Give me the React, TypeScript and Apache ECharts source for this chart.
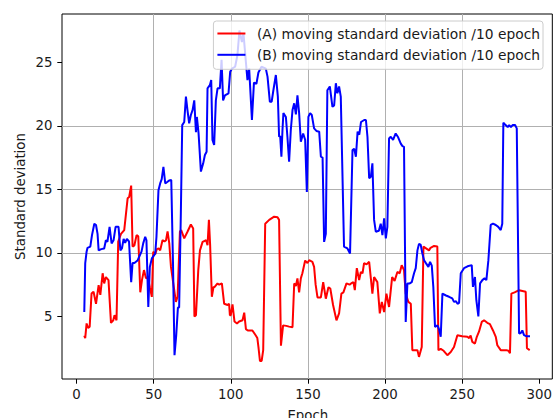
import React, { useEffect, useRef } from "react";
import * as echarts from "echarts";

const seriesNames = [
  "(A) moving standard deviation /10 epoch",
  "(B) moving standard deviation /10 epoch",
];
const xTicks = [0, 50, 100, 150, 200, 250, 300];
const yTicks = [5, 10, 15, 20, 25];
const xTitle = "Epoch";
const yTitle = "Standard deviation";

// [epoch, value]
const pointsA: [number, number][] = [
  [5, 3.5], [5.6, 3.3], [6.5, 4.45], [7.5, 4.1], [8.5, 4.2], [9.7, 6.8], [11, 6.95], [12.6, 6.0],
  [14.3, 7.46], [15.4, 6.7], [16.9, 8.4], [17.9, 7.6], [19, 8.1], [20.7, 7.86], [22.3, 4.5], [23.8, 4.7],
  [24.6, 5.1], [25.9, 4.7], [27, 10.9], [28.8, 11.5], [30.9, 11.8], [33.1, 14.3], [34.1, 14.4], [35.4, 15.3],
  [36.3, 10.5], [37.5, 10.6], [38.9, 11.4], [40, 11.3], [41.3, 6.9], [42.4, 7.86], [43.7, 8.65], [45, 8.0],
  [46.2, 8.1], [47.5, 7.3], [48.8, 6.54], [49.7, 10.1], [51, 9.9], [52, 10.3], [53.2, 10.35], [54.2, 10.2],
  [55.7, 11.0], [57, 10.9], [58, 11.0], [59, 11.7], [60.1, 10.75], [61.2, 8.9], [62.7, 7.6], [64.4, 6.15],
  [65.5, 6.55], [67, 11.67], [67.8, 11.8], [69.8, 11.14], [71.9, 11.67], [74.1, 12.24], [75.6, 11.93], [76.4, 5.0],
  [77.4, 5.1], [78.9, 8.65], [80, 10.2], [81.7, 10.87], [84, 11.0], [84.9, 10.6], [85.8, 12.6], [86.6, 10.6],
  [87.7, 6.55], [88.8, 7.33], [89.4, 7.3], [91.4, 7.6], [92.5, 7.5], [94.2, 7.6], [95.7, 6.0], [97.9, 5.9],
  [98.9, 6.0], [99.4, 5.1], [100, 5.1], [101.1, 5.95], [102.4, 4.6], [104, 4.45], [105.4, 4.6], [107.6, 4.7],
  [108.7, 5.3], [109.8, 4.0], [111, 3.9], [114, 3.9], [116.2, 3.5], [117.2, 3.3], [118, 2.5], [118.9, 1.5],
  [120, 1.5], [121, 2.35], [122.3, 12.3], [124.9, 12.6], [128.1, 12.85], [130.3, 12.8], [131.3, 12.6], [132.5, 2.7],
  [133.9, 4.3], [136, 4.26], [137.8, 4.2], [140, 4.15], [141.1, 7.6], [142.2, 7.4], [143.2, 8.0], [144.3, 6.9],
  [145.4, 8.0], [146.4, 8.4], [148.2, 9.4], [149.7, 9.2], [150.8, 9.43], [152.9, 9.3], [154, 8.9], [155, 7.5],
  [156.2, 6.5], [158.4, 6.5], [159.9, 7.7], [161.6, 6.4], [163.3, 7.3], [164.5, 7.2], [166.3, 5.9], [168.5, 4.7],
  [170.2, 5.24], [171.7, 6.8], [173, 6.9], [175, 7.6], [177, 7.5], [178, 7.6], [179.5, 7.7], [180.4, 7.07],
  [181.7, 8.8], [183.2, 7.86], [184.3, 8.5], [185.4, 8.4], [186.4, 9.2], [188, 9.1], [189.7, 9.3], [190.8, 8.0],
  [191.8, 6.8], [192.9, 8.1], [195, 7.7], [196.6, 5.24], [197.9, 6.15], [199.4, 5.35], [200.9, 6.8], [202.6, 5.75],
  [204.6, 8.1], [206.2, 7.8], [208, 8.5], [209.5, 8.4], [210.8, 9.04], [212.3, 8.65], [213.4, 6.8], [215.1, 6.15],
  [216.7, 6.0], [217.7, 2.35], [221, 2.35], [222, 1.82], [223.8, 2.6], [224.9, 10.5], [228.5, 10.2], [229.5, 10.4],
  [231.8, 10.55], [233.9, 10.5], [234.6, 2.35], [236.1, 2.45], [238, 2.3], [240.4, 1.95], [242.6, 2.2], [244.7, 2.6],
  [246.9, 3.53], [250, 3.45], [253.4, 3.4], [254.5, 3.3], [255.5, 3.5], [256.6, 3.0], [258.3, 2.87], [259.5, 3.4],
  [260.9, 3.8], [262.7, 4.57], [264.2, 4.7], [266.3, 4.5], [268, 4.4], [270, 3.9], [271.8, 3.4], [272.8, 2.74],
  [275, 2.35], [278.6, 2.35], [280, 2.3], [281, 2.1], [281.9, 6.8], [284, 6.9], [286.9, 7.07], [291.2, 6.94],
  [292, 2.5], [293.8, 2.35],
];

const pointsB: [number, number][] = [
  [5, 5.36], [5.6, 9.17], [6.5, 10.1], [7.1, 10.4], [8.9, 10.5], [10, 11.4], [11.5, 12.3], [12.6, 12.2],
  [13.6, 11.5], [14.3, 10.2], [16, 10.3], [17.9, 10.35], [19, 11.0], [20, 10.87], [21.4, 12.05], [22.7, 10.75],
  [24, 11.0], [25.3, 12.05], [27.2, 12.05], [28.4, 10.2], [29.4, 10.35], [30.5, 11.1], [31.5, 10.8], [32.6, 11.1],
  [34, 10.9], [35.4, 7.7], [36.3, 9.2], [37.5, 9.2], [39.5, 9.4], [40.6, 9.7], [42.1, 10.1], [43.2, 10.75],
  [44.5, 11.27], [45.3, 11.0], [46.5, 5.75], [47.5, 8.9], [48.8, 9.57], [50.3, 9.83], [51, 9.96], [51.8, 11.27],
  [53.1, 14.94], [54.2, 15.47], [55.2, 15.8], [56.3, 16.78], [57.5, 15.47], [59, 15.6], [60, 15.7], [61.4, 15.73],
  [62.5, 9.3], [63.5, 1.95], [64.6, 3.5], [65.7, 5.7], [66.5, 5.7], [67.6, 13.1], [68.5, 20.06], [69.8, 20.3],
  [70.9, 22.3], [71.9, 21.24], [73, 20.2], [74.1, 20.85], [75.2, 21.24], [76.3, 22.0], [77.4, 19.5], [78, 20.7],
  [79.1, 19.4], [80.6, 16.4], [82.1, 17.05], [83.2, 17.7], [84.3, 17.96], [84.9, 22.95], [86.4, 23.2], [87.3, 23.6],
  [88.1, 18.9], [89.2, 18.5], [90.3, 22.0], [91.4, 22.95], [92.9, 22.95], [94, 25.2], [95, 22.0], [96.2, 22.4],
  [98.5, 22.56], [99.6, 24.26], [100.7, 24.5], [102.8, 24.65], [104.3, 25.57], [105.6, 27.5], [107.2, 26.6], [108.2, 27.3],
  [109.8, 25.0], [110.8, 23.6], [111.9, 24.5], [113.7, 20.46], [115, 23.4], [116.6, 23.3], [117.9, 24.2], [119.9, 24.65],
  [122.7, 24.5], [123.8, 23.87], [125.3, 21.9], [126.5, 21.9], [127.6, 22.8], [129.2, 24.0], [130.5, 22.3], [131.3, 19.14],
  [132, 19.2], [132.8, 17.57], [133.5, 19.67], [134.1, 21.0], [135.7, 20.7], [136.7, 19.14], [137.8, 17.17], [138.9, 19.67],
  [140, 21.24], [141.1, 21.77], [142.2, 20.9], [143.2, 22.4], [144.3, 21.0], [145.4, 18.75], [146.9, 19.4], [148.2, 18.9],
  [149.3, 14.8], [150.3, 20.7], [151.4, 21.0], [152.5, 20.85], [154, 19.8], [155.5, 19.6], [157.3, 19.54], [158.4, 17.57],
  [159.5, 17.5], [160.5, 10.87], [161.6, 11.5], [162.6, 22.8], [164.2, 23.1], [165.9, 21.5], [167, 21.6], [168.1, 23.35],
  [169.1, 22.56], [170.2, 23.1], [171.3, 22.3], [173.4, 10.5], [175.6, 10.35], [177.3, 9.96], [178.9, 18.1], [180, 18.2],
  [181.1, 17.57], [182.2, 19.54], [183.3, 19.3], [184.4, 20.3], [186.5, 20.46], [187.6, 20.46], [188.6, 19.14], [189.7, 15.87],
  [190.8, 16.0], [191.8, 17.05], [192.9, 12.6], [194, 11.67], [196, 11.75], [197.2, 12.3], [198.3, 11.4], [199.4, 12.72],
  [200.5, 11.14], [201.5, 12.05], [202.6, 19.0], [203.7, 19.14], [205.2, 18.9], [206.9, 19.4], [208.5, 19.1], [210.2, 18.6],
  [211.3, 18.4], [212.3, 18.35], [213.4, 4.57], [214.5, 7.6], [216, 7.6], [217.3, 7.7], [218.8, 8.4], [219.9, 8.8],
  [221, 10.2], [222, 10.7], [223.1, 10.65], [224.2, 9.96], [225.3, 9.43], [226.5, 9.2], [228.1, 8.9], [229.2, 9.3],
  [230.3, 9.0], [231.3, 7.33], [232.4, 4.18], [234, 4.3], [235, 4.0], [236.1, 3.4], [237.2, 6.8], [239.5, 6.65],
  [241.5, 6.55], [243.6, 6.42], [244.7, 6.15], [246, 6.2], [247, 6.0], [248, 6.07], [249.1, 8.4], [251.2, 8.8],
  [253.5, 8.95], [256.2, 9.04], [257, 7.33], [258.3, 8.1], [259.2, 6.28], [260.5, 5.0], [261.6, 7.6], [263.1, 7.86],
  [264.5, 8.0], [265.7, 7.86], [267, 9.43], [268.5, 12.2], [270, 12.3], [271.8, 12.2], [273.4, 12.05], [275, 11.8],
  [276, 12.3], [276.7, 20.25], [278.2, 20.06], [279.5, 19.9], [280.5, 20.06], [281.6, 19.9], [282.7, 20.06], [284.3, 20.06],
  [285.4, 19.8], [286.9, 3.66], [288, 3.7], [289, 3.9], [290.1, 3.53], [291.5, 3.45], [294, 3.45],
];

const FONT = "DejaVu Sans";
const FS = 13.33;
const LEGEND_FS = 13.8;
const TEXT = "#1a1a1a";

export default function App() {
  const ref = useRef<HTMLDivElement>(null);
  useEffect(() => {
    const chart = echarts.init(ref.current!, null, { renderer: "svg" });
    chart.setOption({
      animation: false,
      textStyle: { fontFamily: FONT },
      grid: {
        left: 62,
        right: 2,
        top: 14,
        bottom: 39,
        show: true,
        borderColor: "#000000",
        borderWidth: 1,
        backgroundColor: "transparent",
      },
      xAxis: {
        type: "value",
        min: -9.45,
        max: 308.45,
        splitNumber: 5,
        axisLine: { show: false, onZero: false },
        axisTick: { show: true, customValues: xTicks, length: 4.7, lineStyle: { color: "#000", width: 1 } },
        axisLabel: { customValues: xTicks, margin: 8.5, fontSize: FS, color: TEXT, fontFamily: FONT },
        splitLine: { show: true, showMinLine: false, showMaxLine: false, lineStyle: { color: "#b0b0b0", width: 1 } },
      },
      yAxis: {
        type: "value",
        min: 0.08,
        max: 28.8,
        splitNumber: 5,
        axisLine: { show: false, onZero: false },
        axisTick: { show: true, customValues: yTicks, length: 4.7, lineStyle: { color: "#000", width: 1 } },
        axisLabel: { customValues: yTicks, margin: 9.5, fontSize: FS, color: TEXT, fontFamily: FONT },
        splitLine: { show: true, showMinLine: false, showMaxLine: false, lineStyle: { color: "#b0b0b0", width: 1 } },
      },
      legend: {
        data: seriesNames,
        orient: "vertical",
        right: 12,
        top: 21,
        icon: "rect",
        itemWidth: 28,
        itemHeight: 2,
        itemGap: 6.3,
        padding: [5, 3, 7, 4],
        backgroundColor: "rgba(255,255,255,0.8)",
        borderColor: "#cccccc",
        borderWidth: 1,
        borderRadius: 3,
        selectedMode: false,
        textStyle: { fontSize: LEGEND_FS, color: TEXT, fontFamily: FONT, padding: [0, 0, 0, 6.5], lineHeight: 15 },
      },
      series: [
        {
          name: seriesNames[0],
          type: "line",
          data: pointsA,
          symbol: "none",
          color: "#ff0000",
          lineStyle: { color: "#ff0000", width: 2 },
        },
        {
          name: seriesNames[1],
          type: "line",
          data: pointsB,
          symbol: "none",
          color: "#0000ff",
          lineStyle: { color: "#0000ff", width: 2 },
        },
      ],
      graphic: [
        {
          type: "text",
          x: 20.5,
          y: 196.5,
          rotation: Math.PI / 2,
          style: { text: yTitle, fontSize: FS, fontFamily: FONT, fill: TEXT, align: "center", verticalAlign: "middle" },
        },
        {
          type: "text",
          x: 307.8,
          y: 415,
          style: { text: xTitle, fontSize: FS, fontFamily: FONT, fill: TEXT, align: "center", verticalAlign: "middle" },
        },
      ],
    });
    return () => chart.dispose();
  }, []);
  return <div ref={ref} style={{ position: "absolute", left: 0, top: 0, width: 555, height: 418 }} />;
}
